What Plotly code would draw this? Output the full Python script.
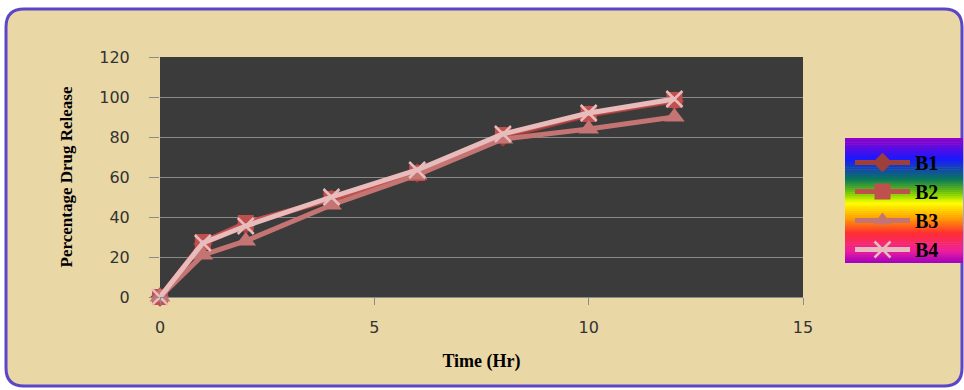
import plotly.graph_objects as go

time_hr = [0, 1, 2, 4, 6, 8, 10, 12]
b1 = [0, 26.5, 36, 49, 62, 80, 91, 98]
b2 = [0, 27.5, 37, 49, 62, 81, 91.5, 98.5]
b3 = [0, 21, 28, 46, 61, 79, 84, 90]
b4 = [0, 27, 35.5, 50, 63.5, 81.5, 92, 99]

W, H = 964, 390
L, R, T, B = 160, 803, 57, 297

def px(x):
    return (x - L) / (R - L)

def py(y):
    return (B - y) / (B - T)

fig = go.Figure()

series = [
    ("B1", b1, "#9e3f3a", "diamond", 15, None),
    ("B2", b2, "#c0504d", "square", 16, None),
    ("B3", b3, "#c47472", "triangle-up", 18, None),
    ("B4", b4, "#e8bcbc", "x-thin", 16, 2.5),
]
for name, vals, col, sym, size, lw in series:
    marker = dict(symbol=sym, size=size, color=col)
    if lw:
        marker["line"] = dict(color=col, width=lw)
    else:
        marker["line"] = dict(color=col, width=0)
    fig.add_trace(go.Scatter(
        x=time_hr, y=vals, name=name, mode="lines+markers",
        line=dict(color=col, width=5), marker=marker, cliponaxis=False))

shapes = []
# background panel with rounded border
x0, y0, x1, y1 = px(6), py(9), px(962), py(386)
r = 18
rx, ry = r / (R - L), r / (B - T)
path = (f"M {x0+rx},{y0} L {x1-rx},{y0} Q {x1},{y0} {x1},{y0-ry} "
        f"L {x1},{y1+ry} Q {x1},{y1} {x1-rx},{y1} L {x0+rx},{y1} "
        f"Q {x0},{y1} {x0},{y1+ry} L {x0},{y0-ry} Q {x0},{y0} {x0+rx},{y0} Z")
shapes.append(dict(type="path", xref="paper", yref="paper", path=path,
                   fillcolor="#ead7a6", line=dict(color="#5b45c8", width=3),
                   layer="below"))
# dark plot area
shapes.append(dict(type="rect", xref="paper", yref="paper", x0=0, x1=1, y0=0, y1=1,
                   fillcolor="#3b3b3b", line=dict(width=0), layer="below"))

# gradient legend box
stops = [(0.0, (150, 0, 200)), (0.17, (25, 25, 255)), (0.33, (10, 120, 90)),
         (0.45, (128, 208, 0)), (0.52, (255, 255, 0)), (0.64, (255, 160, 0)),
         (0.76, (255, 48, 48)), (0.9, (240, 32, 154)), (1.0, (160, 0, 192))]

def interp(f):
    for (fa, ca), (fb, cb) in zip(stops[:-1], stops[1:]):
        if fa <= f <= fb:
            t = (f - fa) / (fb - fa) if fb > fa else 0
            return "rgb(%d,%d,%d)" % tuple(round(a + (b - a) * t) for a, b in zip(ca, cb))
    return "rgb(160,0,192)"

lx0, lx1, ly0, ly1 = 845, 963, 138, 263
n = 60
for i in range(n):
    ya = ly0 + (ly1 - ly0) * i / n
    yb = ly0 + (ly1 - ly0) * (i + 1) / n + 0.6
    shapes.append(dict(type="rect", xref="paper", yref="paper",
                       x0=px(lx0), x1=px(lx1), y0=py(ya), y1=py(min(yb, ly1)),
                       fillcolor=interp((i + 0.5) / n), line=dict(width=0),
                       layer="below"))

fig.update_layout(
    width=W, height=H,
    margin=dict(l=L, r=W - R, t=T, b=H - B, pad=0),
    paper_bgcolor="white",
    plot_bgcolor="#3b3b3b",
    shapes=shapes,
    showlegend=True,
    legend=dict(x=px(850), y=py(143), xanchor="left", yanchor="top",
                bgcolor="rgba(0,0,0,0)", itemwidth=55,
                font=dict(family="Liberation Serif", size=20, color="black",
                          weight="bold"),
                tracegroupgap=0),
    xaxis=dict(range=[0, 15], tickvals=[0, 5, 10, 15], showgrid=False,
               zeroline=False, ticks="outside", ticklen=7, tickcolor="#8a8a8a",
               showline=True, linecolor="#8a8a8a", linewidth=1,
               ticklabelstandoff=9,
               tickfont=dict(family="DejaVu Sans", size=16, color="#333333"),
               title=dict(text="Time (Hr)", standoff=18,
                          font=dict(family="Liberation Serif", size=18,
                                    color="black", weight="bold"))),
    yaxis=dict(range=[0, 120], tickvals=[0, 20, 40, 60, 80, 100, 120],
               showgrid=True, gridcolor="#8a8a8a", gridwidth=1,
               zeroline=False, ticks="outside", ticklen=10, tickcolor="#8a8a8a",
               showline=False, ticklabelstandoff=16,
               tickfont=dict(family="DejaVu Sans", size=16, color="#333333"),
               title=dict(text="Percentage Drug Release", standoff=22,
                          font=dict(family="Liberation Serif", size=17,
                                    color="black", weight="bold"))),
)

fig.write_html("out.html")
